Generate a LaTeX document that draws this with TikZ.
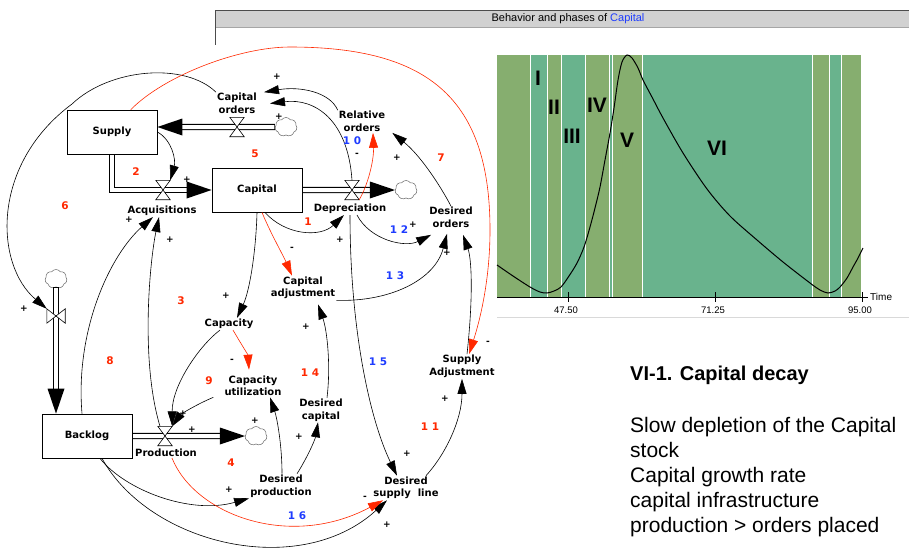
\documentclass[tikz,border=0pt]{standalone}
\usepackage{fontspec}
\setmainfont{Liberation Sans}
\newfontfamily\vfont{DejaVu Sans}
\usetikzlibrary{arrows.meta,shapes.symbols,calc}
\definecolor{loopred}{RGB}{255,40,0}
\definecolor{loopblue}{RGB}{30,60,255}
\definecolor{phgreen}{RGB}{134,174,111}
\definecolor{phteal}{RGB}{105,179,141}
\tikzstyle{stock}=[rectangle, draw=black, line width=0.8pt, fill=white, minimum width=90pt, minimum height=44pt, font=\vfont\bfseries\fontsize{10}{12}\selectfont]
\tikzstyle{var}=[align=center, inner sep=1pt, font=\vfont\bfseries\fontsize{10}{12.5}\selectfont]
\tikzstyle{valve}=[rectangle, minimum width=14pt, minimum height=19pt, inner sep=0pt]
\tikzstyle{vvalve}=[rectangle, minimum width=18pt, minimum height=14pt, inner sep=0pt]
\tikzstyle{sink}=[cloud, cloud puffs=7, cloud puff arc=110, draw=black!60, line width=0.5pt, fill=white, minimum width=22pt, minimum height=19pt, inner sep=0pt]
\tikzstyle{pipe}=[draw=black, line width=6.2pt, shorten >=22pt]
\tikzstyle{pipein}=[draw=white, line width=4pt, shorten >=21pt, shorten <=0.6pt]
\tikzstyle{causal}=[line width=0.6pt, -{Triangle[length=15pt,width=9pt]}]
\tikzstyle{negcausal}=[causal, color=loopred]
\tikzstyle{sign}=[inner sep=0pt, font=\vfont\bfseries\fontsize{9}{9}\selectfont]
\tikzstyle{loopnum}=[inner sep=0pt, text=loopred, font=\vfont\bfseries\fontsize{10.5}{10.5}\selectfont]
\tikzstyle{phase}=[inner sep=0pt, font=\bfseries\fontsize{21}{21}\selectfont]
\newcommand{\drawvalve}[1]{\draw[fill=white, line width=0.6pt] (#1.north west) -- (#1.north east) -- (#1.south west) -- (#1.south east) -- cycle;}
\newcommand{\drawvvalve}[1]{\draw[fill=white, line width=0.6pt] (#1.north west) -- (#1.south west) -- (#1.north east) -- (#1.south east) -- cycle;}
% from, path operation, to, point the head looks back at
\newcommand{\flow}[4]{
  \draw[pipe] (#1) #2 (#3);
  \draw[pipein] (#1) #2 (#3);
  \fill ($(#3)!25pt!(#4)!8.5pt!90:(#3)$) -- (#3) -- ($(#3)!25pt!(#4)!8.5pt!-90:(#3)$) -- cycle;
}

\begin{document}
\begin{tikzpicture}[x=1pt, y=-1pt]
\useasboundingbox (0,0) rectangle (909,550);

% behaviour window
\fill[black!18] (215,10) rectangle (909,27);
\draw[black!70, line width=1pt] (215,10) -- (909,10);
\draw[black!35] (215,27) -- (909,27);
\draw[black!70, line width=0.8pt] (215,10) -- (215,45);
\node[font=\fontsize{11}{11}\selectfont] (wintitle) at (568,19) {Behavior and phases of \textcolor{loopblue}{Capital}};

\foreach \xa/\xb/\col in {497/530/phgreen, 531/547/phteal, 548/561/phgreen, 562/585/phteal, 586/609/phgreen, 610/612/phteal, 613/642/phgreen, 643/812/phteal, 813/829/phgreen, 830/841/phteal, 842/861/phgreen}
  \fill[\col] (\xa,55) rectangle (\xb,297);
\draw[line width=1pt] plot[smooth, tension=0.5] coordinates {(497,265) (513,276) (530,287) (540,292) (547,293) (554,291) (561,287) (569,276) (577,263) (584,247) (590,227) (595,208) (600,187) (605,160) (610,133) (614,108) (618,80) (622,62) (627,55) (632,58) (638,68) (643,80) (653,99) (663,118) (683,153) (707,189) (730,216) (757,240) (783,262) (810,283) (820,290) (828,293) (835,291) (840,287) (847,278) (853,267) (858,258) (863,248)};
\draw[line width=0.8pt] (497,297) -- (868,297);
\foreach \x/\lbl [count=\i] in {568/47.50, 715/71.25, 862/95.00} {
  \draw (\x,292) -- (\x,302);
  \node[font=\fontsize{9.5}{9.5}\selectfont] (tick\i) at (\x-2,310) {\lbl};
}
\node[anchor=west, inner sep=0pt, font=\fontsize{10}{10}\selectfont] (timelbl) at (870,297) {Time};
\draw[black!15, line width=1pt] (497,317) -- (909,317);
\node[phase] (ph1) at (538,78) {I};
\node[phase] (ph2) at (554,107) {II};
\node[phase] (ph3) at (572,136) {III};
\node[phase] (ph4) at (597,105) {IV};
\node[phase] (ph5) at (627,140) {V};
\node[phase] (ph6) at (717,148) {VI};

% notes
\node[anchor=base west, inner sep=0pt, font=\bfseries\fontsize{20}{20}\selectfont] (notehead) at (630,380) {VI-1. Capital decay};
\foreach \txt [count=\i] in {Slow depletion of the Capital, stock, Capital growth rate, capital infrastructure, production > orders placed}
  \node[anchor=base west, inner sep=0pt, font=\fontsize{21}{21}\selectfont] (note\i) at (630,407+25*\i) {\txt};

% stocks and flows
\node[stock] (supply) at (112,132) {Supply};
\node[stock] (capital) at (257,190) {Capital};
\node[stock] (backlog) at (87,436) {Backlog};
\node[sink] (cl1) at (286,127) {};
\node[sink] (cl2) at (406,190) {};
\node[sink] (cl3) at (56,279) {};
\node[sink] (cl4) at (256,436) {};
\coordinate (f1end) at (cl1 -| supply.east);
\coordinate (f2bend) at (supply.south |- capital.west);
\coordinate (f4end) at (cl3 |- backlog.north);
\flow{cl1.west}{--}{f1end}{cl1.west}
\flow{supply.south}{|-}{capital.west}{f2bend}
\flow{capital.east}{--}{cl2.west}{capital.east}
\flow{cl3.south}{--}{f4end}{cl3.south}
\flow{backlog.east}{--}{cl4.west}{backlog.east}
\node[valve] (vco) at (237,127) {};
\node[valve] (vacq) at (163,190) {};
\node[valve] (vdep) at (352,190) {};
\node[vvalve] (vin) at (56,316) {};
\node[valve] (vprod) at (165,436) {};
\drawvalve{vco} \drawvalve{vacq} \drawvalve{vdep} \drawvalve{vprod} \drawvvalve{vin}

\node[var] (caporders) at (237,103.5) {Capital\\orders};
\node[var] (acq) at (162,211) {Acquisitions};
\node[var] (depr) at (350,209) {Depreciation};
\node[var] (prod) at (166,453) {Production};
\node[var] (relord) at (362,121.5) {Relative\\orders};
\node[var] (desord) at (451,217.5) {Desired\\orders};
\node[var] (capadj) at (303,288) {Capital\\adjustment};
\node[var] (capacity) at (229,324) {Capacity};
\node[var] (caputil) at (253,386) {Capacity\\utilization};
\node[var] (descap) at (321,410) {Desired\\capital};
\node[var] (desprod) at (281,486) {Desired\\production};
\node[var] (dessl) at (406,488) {Desired\\supply~~line};
\node[var] (supadj) at (462,366.5) {Supply\\Adjustment};

% links
\draw[causal] (relord.north west) .. controls (330,92) and (300,86) .. ([xshift=6pt]caporders.north east);
\draw[causal] (vdep.north) .. controls (348,120) and (315,98) .. ([xshift=12pt]caporders.east);
\draw[causal] (caporders.north west) .. controls (185,62) and (110,68) .. (72,104) .. controls (-10,165) and (-5,265) .. (vin.north west);
\draw[negcausal] (supply.50) .. controls (165,75) and (240,47) .. (290,47) .. controls (430,47) and (490,100) .. (490,230) .. controls (490,280) and (480,320) .. ([xshift=7pt]supadj.north);
\draw[negcausal] (vdep.south east) .. controls (368,185) and (374,160) .. ([xshift=11pt]relord.south);
\draw[causal] (desord.north) .. controls (440,185) and (420,155) .. ([xshift=6pt]relord.south east);
\draw[causal] ([xshift=8pt]capital.south) .. controls (285,235) and (320,238) .. ([xshift=-6pt]depr.south);
\draw[causal] ([xshift=7pt]depr.south) .. controls (370,240) and (405,248) .. ([xshift=3pt,yshift=-6pt]desord.south west);
\draw[causal] (capadj.south east) .. controls (390,302) and (435,280) .. ([xshift=-4pt,yshift=-5pt]desord.south);
\draw[causal] ([xshift=5pt]supadj.north) .. controls (473,300) and (472,260) .. ([xshift=12pt,yshift=-6pt]desord.south);
\draw[negcausal] ([xshift=5pt]capital.south) .. controls (270,232) and (283,255) .. ([xshift=-11pt]capadj.north);
\draw[causal] (capital.south) .. controls (256,250) and (250,290) .. ([xshift=8pt]capacity.north);
\draw[negcausal] ([xshift=4pt]capacity.south) .. controls (240,342) and (248,355) .. ([xshift=-4pt,yshift=5pt]caputil.north);
\draw[causal] ([xshift=-9pt]capacity.south) .. controls (200,345) and (172,385) .. (vprod.north east);
\draw[causal] ([xshift=-10pt]caputil.south west) .. controls (195,405) and (180,415) .. (vprod.north east);
\draw[causal] ([xshift=1pt]desprod.north) .. controls (282,445) and (277,418) .. ([xshift=17pt]caputil.south);
\draw[causal] ([xshift=16pt]desprod.north) .. controls (307,458) and (315,440) .. ([xshift=-3pt]descap.south);
\draw[causal] ([xshift=6pt]descap.north) .. controls (331,365) and (327,330) .. ([xshift=15pt,yshift=-4pt]capadj.south);
\draw[causal] (depr.south) .. controls (350,330) and (370,420) .. ([xshift=-9pt]dessl.north);
\draw[causal] ([xshift=20pt]dessl.north) .. controls (445,455) and (462,420) .. (supadj.south);
\draw[causal] ([xshift=13pt]backlog.south) .. controls (125,490) and (190,515) .. (desprod.south west);
\draw[causal] ([xshift=15pt]backlog.south) .. controls (150,545) and (300,580) .. ([xshift=-19pt]dessl.south);
\draw[negcausal] ([xshift=6pt]prod.south) .. controls (195,515) and (290,550) .. ([xshift=-23pt]dessl.south);
\draw[causal] ([xshift=-5pt]backlog.north) .. controls (75,330) and (110,255) .. ([xshift=-9pt]acq.south);
\draw[causal] ([xshift=-5pt]vprod.north) .. controls (140,360) and (150,260) .. ([xshift=-3pt]acq.south);
\draw[causal] (supply.east) .. controls (172,140) and (176,160) .. (vacq.north east);

% polarities and loop numbers
\foreach \x/\y [count=\i] in {277/77, 279/117, 187/180, 129/220, 170/240, 24/309, 340/240, 413/225, 447/253, 397/158, 226/296, 192/430, 255/421, 183/414, 306/327, 299/437, 229/490, 387/525, 407/454, 445/399}
  \node[sign] (plus\i) at (\x,\y) {+};
\foreach \x/\y [count=\i] in {357/155, 292/249, 232/361, 365/498, 488/343}
  \node[sign] (minus\i) at (\x,\y) {-};
\foreach \x/\y/\n [count=\i] in {308/222/1, 136/172/2, 181/301/3, 231/463/4, 255/154/5, 65/206/6, 441/158/7, 110/361/8, 209/381/9, 430/427/1 1, 310/373/1 4}
  \node[loopnum] (rloop\i) at (\x,\y) {\n};
\foreach \x/\y/\n [count=\i] in {352/141/1 0, 399/230/1 2, 395/276/1 3, 378/362/1 5, 297/516/1 6}
  \node[loopnum, text=loopblue] (bloop\i) at (\x,\y) {\n};

\end{tikzpicture}
\end{document}
